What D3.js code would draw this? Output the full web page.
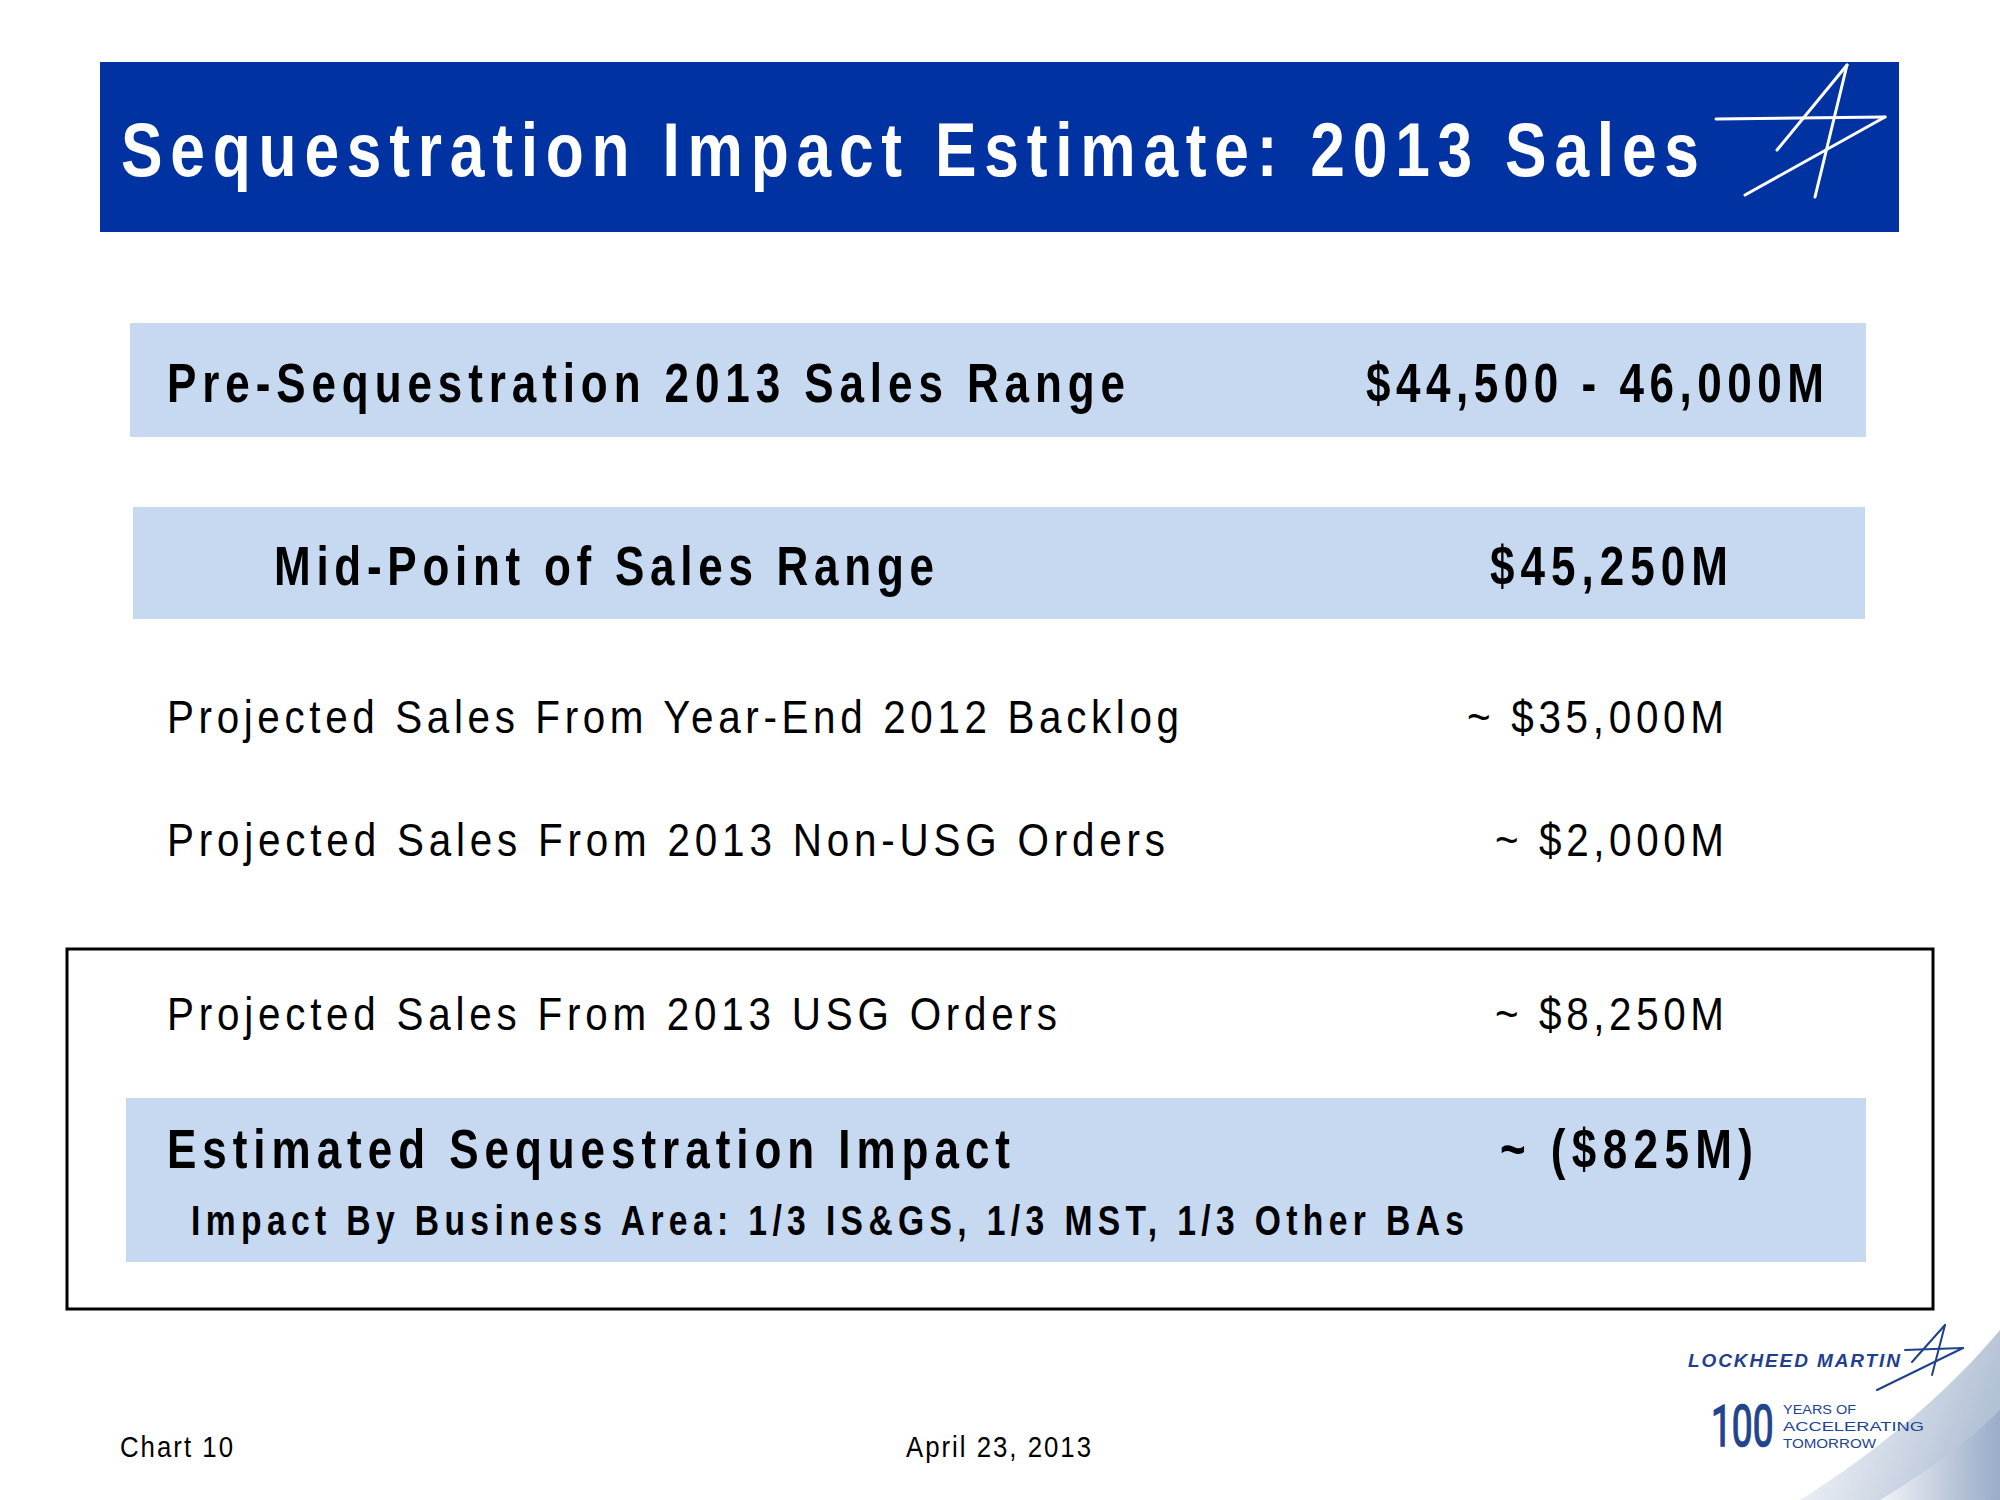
<!DOCTYPE html>
<html>
<head>
<meta charset="utf-8">
<script src="https://cdn.jsdelivr.net/npm/d3@7"></script>
<style>
  html, body { margin: 0; padding: 0; background: #ffffff; }
  svg { display: block; }
</style>
</head>
<body>
<svg id="slide" width="2000" height="1500"></svg>
<script>
// ---------- data ----------
const titleText = "Sequestration Impact Estimate: 2013 Sales";
const rowLabels = [
  "Pre-Sequestration 2013 Sales Range",
  "Mid-Point of Sales Range",
  "Projected Sales From Year-End 2012 Backlog",
  "Projected Sales From 2013 Non-USG Orders",
  "Projected Sales From 2013 USG Orders",
  "Estimated Sequestration Impact"
];
const rowValues = [
  "$44,500 - 46,000M",
  "$45,250M",
  "~ $35,000M",
  "~ $2,000M",
  "~ $8,250M",
  "~ ($825M)"
];
const impactNote = "Impact By Business Area: 1/3 IS&GS, 1/3 MST, 1/3 Other BAs";
const footerLeft = "Chart 10";
const footerDate = "April 23, 2013";
const logoName = "LOCKHEED MARTIN";
const logoYears = "100";
const logoTagline = ["YEARS OF", "ACCELERATING", "TOMORROW"];

// ---------- layout (positions / styles) ----------
const rowLayout = [
  {bold: true,  size: 55, y: 402,  lx: 167, lw: 958,  vx: 1366, vw: 458},
  {bold: true,  size: 55, y: 585,  lx: 274, lw: 660,  vx: 1490, vw: 238},
  {bold: false, size: 47, y: 733,  lx: 167, lw: 1012, vx: 1467, vw: 257},
  {bold: false, size: 47, y: 856,  lx: 167, lw: 998,  vx: 1495, vw: 229},
  {bold: false, size: 47, y: 1030, lx: 167, lw: 890,  vx: 1495, vw: 229},
  {bold: true,  size: 55, y: 1168, lx: 167, lw: 843,  vx: 1500, vw: 253}
];
const bands = [
  {x: 130, y: 323, w: 1736, h: 114},
  {x: 133, y: 507, w: 1732, h: 112},
  {x: 126, y: 1098, w: 1740, h: 164}
];

const FONT = "'Liberation Sans', Arial, sans-serif";
const BLUE = "#0033a1";
const BAND = "#c6d9f1";
const svg = d3.select("#slide");

// condensed text: glyphs squeezed horizontally, spacing fills the target width
function narrowText(parent, o) {
  const sx = o.sx || (o.bold ? 0.8 : 0.86);
  return parent.append("text")
    .attr("transform", `translate(${o.x},${o.y}) scale(${sx},1)`)
    .attr("font-family", FONT)
    .attr("font-weight", o.bold ? "bold" : "normal")
    .attr("font-size", o.size)
    .attr("fill", o.fill || "#000000")
    .attr("textLength", o.w / sx).attr("lengthAdjust", "spacing")
    .text(o.text);
}

// background swoosh gradient (bottom right)
const defs = svg.append("defs");
const g1 = defs.append("linearGradient").attr("id", "sw1")
  .attr("x1", "0").attr("y1", "0").attr("x2", "1").attr("y2", "0.3");
g1.append("stop").attr("offset", "0").attr("stop-color", "#ffffff");
g1.append("stop").attr("offset", "1").attr("stop-color", "#b3c1d6");
const g2 = defs.append("linearGradient").attr("id", "sw2")
  .attr("x1", "0").attr("y1", "0").attr("x2", "1").attr("y2", "0");
g2.append("stop").attr("offset", "0").attr("stop-color", "#ffffff");
g2.append("stop").attr("offset", "1").attr("stop-color", "#8fa3c2");

svg.append("path")
  .attr("d", "M1800,1500 C1880,1450 1950,1390 2000,1330 L2000,1500 Z")
  .attr("fill", "url(#sw1)");
svg.append("path")
  .attr("d", "M1880,1500 C1930,1470 1970,1440 2000,1410 L2000,1500 Z")
  .attr("fill", "url(#sw2)").attr("opacity", 0.7);

// title bar
svg.append("rect").attr("x", 100).attr("y", 62).attr("width", 1799).attr("height", 170).attr("fill", BLUE);
narrowText(svg, {x: 121, y: 176, size: 76, bold: true, fill: "#ffffff", w: 1578, text: titleText, sx: 0.82});

// title star logo
const starLines = [
  [[1716, 119], [1885, 117]],
  [[1885, 117], [1745, 195]],
  [[1847, 65], [1815, 197]],
  [[1847, 65], [1777, 150]]
];
svg.append("g").selectAll("line").data(starLines).join("line")
  .attr("x1", d => d[0][0]).attr("y1", d => d[0][1])
  .attr("x2", d => d[1][0]).attr("y2", d => d[1][1])
  .attr("stroke", "#ffffff").attr("stroke-width", 3).attr("stroke-linecap", "round");

// bands
svg.append("g").selectAll("rect").data(bands).join("rect")
  .attr("x", d => d.x).attr("y", d => d.y).attr("width", d => d.w).attr("height", d => d.h)
  .attr("fill", BAND);

// outline box
svg.append("rect").attr("x", 67).attr("y", 949).attr("width", 1866).attr("height", 360)
  .attr("fill", "none").attr("stroke", "#000000").attr("stroke-width", 3);

// rows
const rowG = svg.append("g");
rowLabels.forEach((label, i) => {
  const L = rowLayout[i];
  narrowText(rowG, {x: L.lx, y: L.y, size: L.size, bold: L.bold, w: L.lw, text: label});
  narrowText(rowG, {x: L.vx, y: L.y, size: L.size, bold: L.bold, w: L.vw, text: rowValues[i]});
});

// impact note
narrowText(svg, {x: 191, y: 1235, size: 42, bold: true, w: 1273, text: impactNote});

// footer
narrowText(svg, {x: 120, y: 1457, size: 30, w: 113, text: footerLeft});
narrowText(svg, {x: 906, y: 1457, size: 30, w: 185, text: footerDate});

// bottom-right logo
const LOGO = "#1f3f8f";
svg.append("text").attr("x", 1688).attr("y", 1367)
  .attr("font-family", FONT).attr("font-weight", "bold").attr("font-style", "italic")
  .attr("font-size", 19).attr("fill", LOGO)
  .attr("textLength", 212).attr("lengthAdjust", "spacing")
  .text(logoName);
const logoStar = [
  [[1905, 1350], [1963, 1348]],
  [[1963, 1348], [1877, 1390]],
  [[1945, 1325], [1932, 1375]],
  [[1945, 1325], [1912, 1362]]
];
svg.append("g").selectAll("line").data(logoStar).join("line")
  .attr("x1", d => d[0][0]).attr("y1", d => d[0][1])
  .attr("x2", d => d[1][0]).attr("y2", d => d[1][1])
  .attr("stroke", LOGO).attr("stroke-width", 2).attr("stroke-linecap", "round");
svg.append("text")
  .attr("transform", "translate(1711,1446) scale(0.64,1)")
  .attr("font-family", "Roboto, " + FONT)
  .attr("font-size", 58).attr("fill", "#21448f")
  .attr("stroke", "#21448f").attr("stroke-width", 1.5)
  .text(logoYears);
svg.append("g").selectAll("text").data(logoTagline).join("text")
  .attr("x", 1783).attr("y", (d, i) => 1414 + i * 17)
  .attr("font-family", FONT).attr("font-size", 12).attr("fill", "#21448f")
  .attr("textLength", (d, i) => [73, 141, 93][i]).attr("lengthAdjust", "spacingAndGlyphs")
  .text(d => d);
</script>
</body>
</html>
